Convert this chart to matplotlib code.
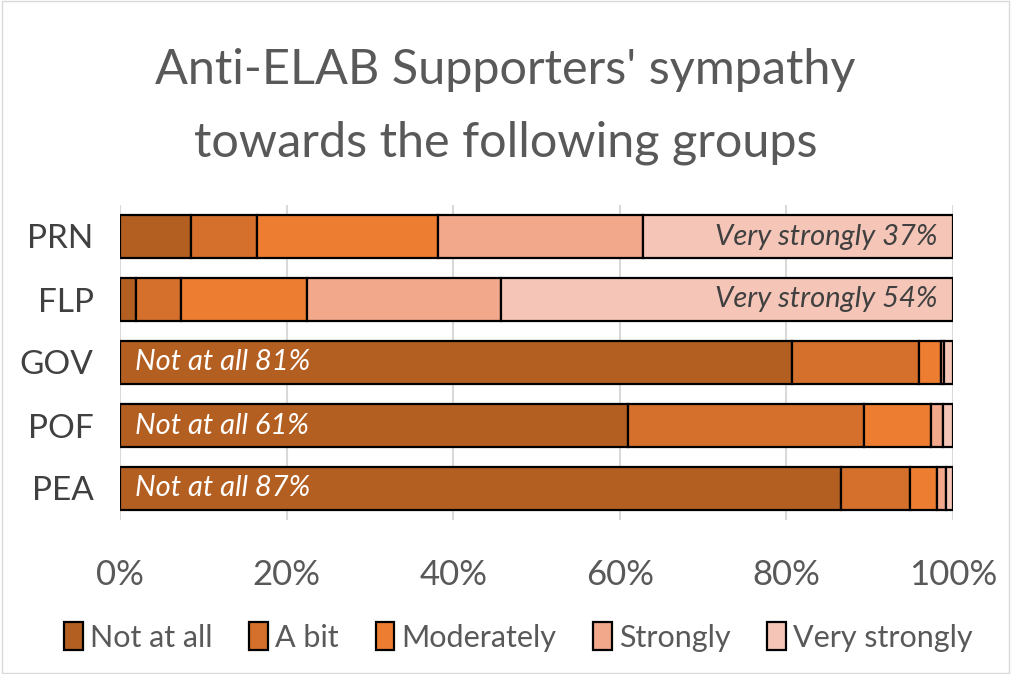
import numpy as np
import matplotlib.pyplot as plt
from matplotlib.patches import Rectangle

groups = ['PRN', 'FLP', 'GOV', 'POF', 'PEA']
levels = ['Not at all', 'A bit', 'Moderately', 'Strongly', 'Very strongly']
not_at_all = [8.5, 1.9, 80.7, 61.0, 86.6]
a_bit = [8.0, 5.4, 15.2, 28.3, 8.2]
moderately = [21.7, 15.1, 2.6, 8.0, 3.3]
strongly = [24.6, 23.3, 0.4, 1.5, 1.0]
very_strongly = [37.2, 54.3, 1.1, 1.2, 0.9]
colors = ['#B45F22', '#D4702B', '#ED7D31', '#F1A88B', '#F5C6B8']

series = [not_at_all, a_bit, moderately, strongly, very_strongly]

plt.rcParams['font.family'] = ['Lato', 'DejaVu Sans']

fig = plt.figure(figsize=(10.11, 6.74), dpi=100)
ax = fig.add_axes([120 / 1011, 1 - 520 / 674, 833 / 1011, 315 / 674])

y = np.arange(len(groups))
left = np.zeros(len(groups))
for vals, name, c in zip(series, levels, colors):
    vals = np.array(vals)
    ax.barh(y, vals, left=left, height=0.68, color=c, edgecolor='black',
            linewidth=1.6, label=name, zorder=3)
    left += vals

ax.set_xlim(0, 100)
ax.set_ylim(len(groups) - 0.5, -0.5)
ax.set_yticks(y)
ax.set_yticklabels(groups, fontsize=24, color='#404040')
ax.set_xticks(np.arange(0, 101, 20))
ax.set_xticklabels([f'{v}%' for v in range(0, 101, 20)], fontsize=25, color='#595959')
ax.tick_params(axis='y', length=0, pad=19)
ax.tick_params(axis='x', length=0, pad=28)
ax.grid(axis='x', color='#d9d9d9', linewidth=1.5, zorder=0)
for s in ax.spines.values():
    s.set_visible(False)

# annotations
for i in range(2):
    ax.text(98.1, i, f'Very strongly {very_strongly[i]:.0f}%', ha='right', va='center',
            fontsize=21, style='italic', color='#404040', zorder=4)
for i in range(2, 5):
    ax.text(1.8, i, f'Not at all {not_at_all[i]:.0f}%', ha='left', va='center',
            fontsize=21, style='italic', color='white', zorder=4)

fig.text(0.5, 1 - 70 / 674, "Anti-ELAB Supporters' sympathy", ha='center', va='center',
         fontsize=35, color='#595959')
fig.text(0.5, 1 - 143 / 674, "towards the following groups", ha='center', va='center',
         fontsize=35, color='#595959')

fig.legend(loc='center', bbox_to_anchor=(0.513, 1 - 637 / 674), ncol=5, frameon=False,
           fontsize=22, handlelength=0.6, handleheight=1.0, handletextpad=0.25,
           columnspacing=1.2, labelcolor='#595959')

fig.patches.append(Rectangle((0.002, 0.002), 0.996, 0.996, transform=fig.transFigure,
                             fill=False, edgecolor='#d9d9d9', linewidth=1))

fig.savefig('out.png', dpi=100)
